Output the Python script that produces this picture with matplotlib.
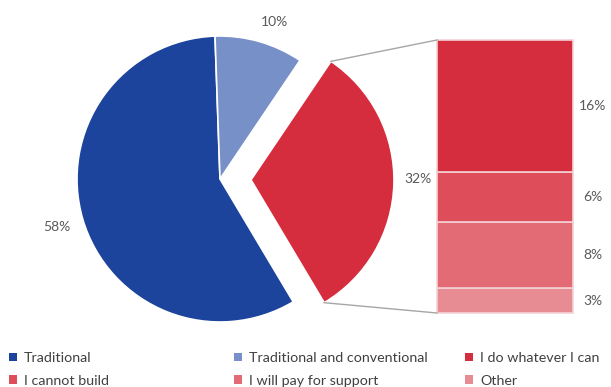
import numpy as np
import matplotlib.pyplot as plt
from matplotlib.patches import Patch

plt.rcParams['font.family'] = ['Lato', 'DejaVu Sans']

# main pie
pie_labels = ['Traditional', 'Traditional and conventional', 'I do whatever I can']
pie_values = [58, 10, 32]
pie_colors = ['#1d449c', '#7890c8', '#d62d3e']

# breakdown of the red slice
bar_labels = ['I do whatever I can', 'I cannot build', 'I will pay for support', 'Other']
bar_values = [16, 6, 8, 3]
bar_colors = ['#d62d3e', '#de4d5a', '#e36b75', '#e88c94']

W, H = 611, 387
fig = plt.figure(figsize=(W / 100, H / 100), dpi=100)
ax = fig.add_axes([0, 0, 1, 1])

cx, cy, r = 220, H - 179, 143
wedges, _ = ax.pie(pie_values, colors=pie_colors, startangle=-59.2, counterclock=False,
                   explode=[0, 0, 31], center=(cx, cy), radius=r, frame=True,
                   wedgeprops=dict(edgecolor='white', linewidth=1.2))
ax.set_xlim(0, W)
ax.set_ylim(0, H)
ax.axis('off')

txt = dict(fontsize=10, color='#595959', va='center')
ax.text(57, H - 227, '58%', ha='center', **txt)
ax.text(274, H - 22, '10%', ha='center', **txt)
ax.text(418, H - 179, '32%', ha='center', **txt)

# stacked bar, drawn bottom-up (Other at the bottom)
bx, bw = 437, 136
unit = 273 / sum(bar_values)
bottom = H - 313
for val, col in zip(bar_values[::-1], bar_colors[::-1]):
    ax.bar(bx, val * unit, width=bw, bottom=bottom, align='edge', color=col,
           edgecolor='#f4d2d5', linewidth=1.2)
    ax.text(593, bottom + val * unit / 2, f'{val}%', ha='center', **txt)
    bottom += val * unit
bar_top = bottom

# connector lines from the exploded slice to the bar
w = wedges[2]
for ang, yend in [(w.theta2, bar_top), (w.theta1, H - 313)]:
    px = w.center[0] + r * np.cos(np.radians(ang))
    py = w.center[1] + r * np.sin(np.radians(ang))
    ax.plot([px, bx], [py, yend], color='#a6a6a6', lw=1)

# legend in three columns
legend_items = list(zip(pie_labels, pie_colors)) + list(zip(bar_labels[1:], bar_colors[1:]))
cols = [(legend_items[0], legend_items[3]), (legend_items[1], legend_items[4]),
        (legend_items[2], legend_items[5])]
for x0, col in zip([9, 234, 465], cols):
    handles = [Patch(facecolor=c, edgecolor='none', label=l) for l, c in col]
    fig.legend(handles=handles, loc='upper left', bbox_to_anchor=(x0 / W, 1 - 352 / H),
               frameon=False, fontsize=10.3, handlelength=0.55, handleheight=0.55,
               handletextpad=0.5, labelspacing=0.75, borderpad=0, borderaxespad=0,
               labelcolor='#404040')

fig.savefig('out.png', dpi=100)
